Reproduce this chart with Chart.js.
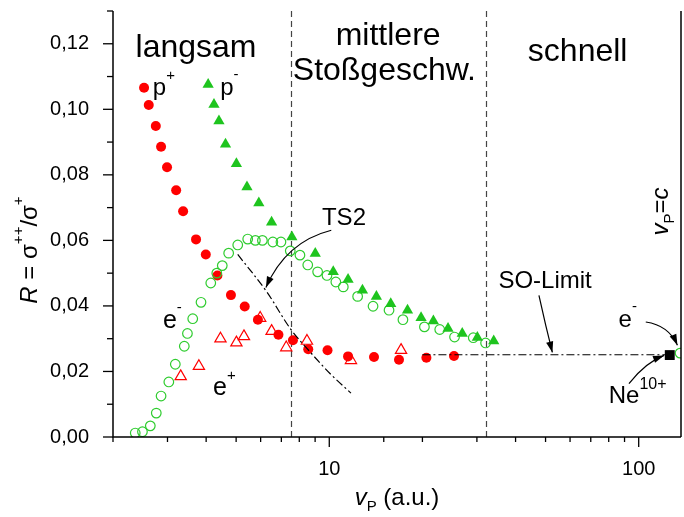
<!DOCTYPE html>
<html>
<head>
<meta charset="utf-8">
<script src="https://cdn.jsdelivr.net/npm/chart.js@4/dist/chart.umd.min.js"></script>
<style>
	html, body { margin: 0; padding: 0; background: #fff; }
</style>
</head>
<body>
<canvas id="ratio-chart" width="684" height="517"></canvas>
<script>
// values: v_P in a.u., R = sigma++/sigma+
const protonV = [2.52, 2.61, 2.75, 2.86, 2.99, 3.20, 3.37, 3.71, 3.99, 4.35, 4.81, 5.33, 5.88, 6.85, 7.63, 8.55, 9.87, 11.5, 13.95, 16.8, 20.6, 25.3];
const protonR = [0.1066, 0.1013, 0.0949, 0.0886, 0.0823, 0.0753, 0.0689, 0.0603, 0.0557, 0.0493, 0.0433, 0.0398, 0.0358, 0.0312, 0.0295, 0.0268, 0.0265, 0.0246, 0.0244, 0.0236, 0.0242, 0.0247];

const antiprotonV = [4.06, 4.24, 4.40, 4.62, 5.01, 5.42, 5.92, 6.51, 7.57, 9.01, 10.3, 11.5, 12.8, 14.2, 15.8, 17.9, 19.8, 21.7, 24.2, 26.9, 30.1, 34.0];
const antiprotonR = [0.1076, 0.1015, 0.0964, 0.0893, 0.0834, 0.0763, 0.0714, 0.0655, 0.0610, 0.0560, 0.0504, 0.0481, 0.0448, 0.0429, 0.0407, 0.0387, 0.0364, 0.0354, 0.0331, 0.0316, 0.0304, 0.0293];

const electronV = [2.36, 2.49, 2.64, 2.76, 2.86, 3.03, 3.18, 3.40, 3.48, 3.62, 3.85, 4.14, 4.33, 4.51, 4.73, 5.06, 5.45, 5.77, 6.08, 6.57, 6.98, 7.48, 8.04, 8.52, 9.17, 9.83, 10.5, 11.1, 12.35, 13.85, 15.6, 17.3, 20.3, 22.75, 25.4, 29.2, 32.0, 136];
const electronR = [0.0012, 0.0016, 0.0034, 0.0073, 0.0125, 0.0168, 0.0222, 0.0277, 0.0316, 0.0361, 0.0411, 0.0470, 0.0500, 0.0523, 0.0561, 0.0586, 0.0604, 0.0600, 0.0600, 0.0595, 0.0595, 0.0568, 0.0555, 0.0525, 0.0504, 0.0493, 0.0473, 0.0458, 0.0429, 0.0399, 0.0387, 0.0358, 0.0336, 0.0328, 0.0305, 0.0303, 0.0287, 0.0256];

const positronV = [3.31, 3.79, 4.45, 5.01, 5.30, 5.98, 6.51, 7.26, 8.47, 11.75, 17.06];
const positronR = [0.0185, 0.0216, 0.0300, 0.0288, 0.0307, 0.0363, 0.0323, 0.0273, 0.0293, 0.0234, 0.0265];

const neonV = [126];
const neonR = [0.0250];

// TS2 curve and shake-off limit
const ts2V = [5.06, 6.29, 7.48, 8.68, 10.07, 11.75];
const ts2R = [0.0557, 0.0442, 0.0331, 0.0259, 0.0193, 0.0134];
const soLimitV = [20.0, 126];
const soLimitR = [0.0251, 0.0251];

// region borders and speed of light (a.u.)
const regionBorders = [7.5, 32];
const lightSpeed = 137;

const xTickLabels = [10, 100];

const FONT = "'Liberation Sans', Arial, sans-serif";

function toPoints(xs, ys) {
	return xs.map((x, i) => ({ x: x, y: ys[i] }));
}

function font(size, italic) {
	return (italic ? "italic " : "") + size + "px " + FONT;
}

// draws runs of text with super-/subscripts, left to right on one baseline
function drawRuns(ctx, x, y, runs, align) {
	let width = 0;
	runs.forEach((r) => {
		ctx.font = font(r.size, r.italic);
		width += ctx.measureText(r.text).width;
	});
	let cx = align === "center" ? x - width / 2 : x;
	runs.forEach((r) => {
		ctx.font = font(r.size, r.italic);
		ctx.fillText(r.text, cx, y + (r.dy || 0));
		cx += ctx.measureText(r.text).width;
	});
}

function arrow(ctx, p0, c, p2) {
	ctx.beginPath();
	ctx.moveTo(p0[0], p0[1]);
	ctx.quadraticCurveTo(c[0], c[1], p2[0], p2[1]);
	ctx.stroke();
	const ang = Math.atan2(p2[1] - c[1], p2[0] - c[0]);
	const len = 11;
	const half = 3.6;
	ctx.beginPath();
	ctx.moveTo(p2[0], p2[1]);
	ctx.lineTo(p2[0] - len * Math.cos(ang) + half * Math.sin(ang), p2[1] - len * Math.sin(ang) - half * Math.cos(ang));
	ctx.lineTo(p2[0] - len * Math.cos(ang) - half * Math.sin(ang), p2[1] - len * Math.sin(ang) + half * Math.cos(ang));
	ctx.closePath();
	ctx.fill();
}

const decorations = {
	id: "decorations",
	beforeDatasetsDraw(chart) {
		const { ctx, chartArea } = chart;
		const xs = chart.scales.x;
		ctx.save();
		ctx.strokeStyle = "#444";
		ctx.lineWidth = 1.2;
		ctx.setLineDash([6, 4]);
		regionBorders.forEach((v) => {
			const x = Math.round(xs.getPixelForValue(v)) + 0.5;
			ctx.beginPath();
			ctx.moveTo(x, chartArea.top);
			ctx.lineTo(x, chartArea.bottom);
			ctx.stroke();
		});
		ctx.restore();
	},
	afterDatasetsDraw(chart) {
		const { ctx, chartArea } = chart;
		const xs = chart.scales.x;
		const ys = chart.scales.y;
		const at = (v, r) => [xs.getPixelForValue(v), ys.getPixelForValue(r)];

		ctx.save();
		ctx.fillStyle = "#000";
		ctx.strokeStyle = "#000";
		ctx.lineWidth = 1.5;

		// axes
		ctx.beginPath();
		ctx.moveTo(chartArea.left, chartArea.top);
		ctx.lineTo(chartArea.left, chartArea.bottom);
		ctx.lineTo(chartArea.right, chartArea.bottom);
		ctx.stroke();

		// v_P = c line
		const cx = xs.getPixelForValue(lightSpeed);
		ctx.beginPath();
		ctx.moveTo(cx, chartArea.top);
		ctx.lineTo(cx, chartArea.bottom);
		ctx.stroke();

		// y ticks, every 0.01
		ctx.lineWidth = 1.3;
		for (let i = 0; i <= 13; i++) {
			const y = ys.getPixelForValue(i / 100);
			const len = i % 2 === 0 ? 10 : 6;
			ctx.beginPath();
			ctx.moveTo(chartArea.left, y);
			ctx.lineTo(chartArea.left - len, y);
			ctx.stroke();
		}
		// x ticks
		xs.ticks.forEach((t) => {
			if (t.value > lightSpeed - 1) return;
			const x = xs.getPixelForValue(t.value);
			const major = xTickLabels.includes(t.value);
			ctx.beginPath();
			ctx.moveTo(x, chartArea.bottom);
			ctx.lineTo(x, chartArea.bottom + (major ? 10 : 5));
			ctx.stroke();
		});

		// arrows
		ctx.lineWidth = 1.2;
		arrow(ctx, at(10.15, 0.0631), at(7.24, 0.0596), at(6.24, 0.0456));
		arrow(ctx, at(47.6, 0.0432), at(50, 0.034), at(52.6, 0.0258));
		arrow(ctx, at(105.4, 0.0351), at(125, 0.0341), at(133.4, 0.0280));
		arrow(ctx, at(93.0, 0.0163), at(105.4, 0.0228), at(120.8, 0.0249));

		// region names
		ctx.textAlign = "left";
		ctx.textBaseline = "alphabetic";
		let p = at(3.71, 0.1159);
		drawRuns(ctx, p[0], p[1], [{ text: "langsam", size: 32 }], "center");
		p = at(15.5, 0.1195);
		drawRuns(ctx, p[0], p[1], [{ text: "mittlere", size: 32 }], "center");
		p = at(15.07, 0.1088);
		drawRuns(ctx, p[0], p[1], [{ text: "Stoßgeschw.", size: 32 }], "center");
		p = at(63.5, 0.1146);
		drawRuns(ctx, p[0], p[1], [{ text: "schnell", size: 32 }], "center");

		// series labels
		p = at(2.69, 0.1043);
		drawRuns(ctx, p[0], p[1], [{ text: "p", size: 24 }, { text: "+", size: 15, dy: -15 }]);
		p = at(4.44, 0.1043);
		drawRuns(ctx, p[0], p[1], [{ text: "p", size: 24 }, { text: "-", size: 15, dy: -16 }]);
		p = at(9.47, 0.0646);
		drawRuns(ctx, p[0], p[1], [{ text: "TS2", size: 24 }]);
		p = at(2.90, 0.0332);
		drawRuns(ctx, p[0], p[1], [{ text: "e", size: 25 }, { text: "-", size: 15, dy: -16 }]);
		p = at(4.21, 0.0127);
		drawRuns(ctx, p[0], p[1], [{ text: "e", size: 25 }, { text: "+", size: 15, dy: -15 }]);
		p = at(35.2, 0.0454);
		drawRuns(ctx, p[0], p[1], [{ text: "SO-Limit", size: 24 }]);
		p = at(86.1, 0.0335);
		drawRuns(ctx, p[0], p[1], [{ text: "e", size: 24 }, { text: "-", size: 15, dy: -16 }]);
		p = at(80, 0.0103);
		drawRuns(ctx, p[0], p[1], [{ text: "Ne", size: 24 }, { text: "10+", size: 16, dy: -14 }]);

		// v_P = c, rotated
		p = at(124.2, 0.0615);
		ctx.save();
		ctx.translate(p[0], p[1]);
		ctx.rotate(-Math.PI / 2);
		drawRuns(ctx, 0, 0, [
			{ text: "v", size: 24, italic: true },
			{ text: "P", size: 15, dy: 6 },
			{ text: "=", size: 24 },
			{ text: "c", size: 24, italic: true },
		]);
		ctx.restore();

		// axis titles
		ctx.save();
		ctx.translate(37, 250);
		ctx.rotate(-Math.PI / 2);
		drawRuns(ctx, 0, 0, [
			{ text: "R", size: 24, italic: true },
			{ text: " = σ", size: 24 },
			{ text: "++", size: 15, dy: -14 },
			{ text: "/σ", size: 24 },
			{ text: "+", size: 15, dy: -14 },
		], "center");
		ctx.restore();

		drawRuns(ctx, (chartArea.left + chartArea.right) / 2, 505, [
			{ text: "v", size: 24, italic: true },
			{ text: "P", size: 15, dy: 6 },
			{ text: " (a.u.)", size: 24 },
		], "center");

		ctx.restore();
	},
};

function noPadding(scale) {
	scale.paddingLeft = 0;
	scale.paddingRight = 0;
	scale.paddingTop = 0;
	scale.paddingBottom = 0;
}

Chart.defaults.font.family = FONT;
Chart.defaults.color = "#000";

new Chart(document.getElementById("ratio-chart").getContext("2d"), {
	type: "scatter",
	data: {
		datasets: [
			{
				label: "SO-Limit",
				data: toPoints(soLimitV, soLimitR),
				showLine: true,
				borderColor: "#000",
				borderWidth: 1.2,
				borderDash: [8, 3, 2, 3],
				pointRadius: 0,
				order: 0,
			},
			{
				label: "TS2",
				data: toPoints(ts2V, ts2R),
				showLine: true,
				borderColor: "#000",
				borderWidth: 1.2,
				borderDash: [8, 3, 2, 3],
				cubicInterpolationMode: "monotone",
				pointRadius: 0,
				order: 0,
			},
			{
				label: "Ne10+",
				data: toPoints(neonV, neonR),
				pointStyle: "rect",
				pointRadius: 7,
				backgroundColor: "#000",
				borderColor: "#000",
				borderWidth: 0,
				order: 1,
			},
			{
				label: "p-",
				data: toPoints(antiprotonV, antiprotonR),
				pointStyle: "triangle",
				pointRadius: 6.5,
				backgroundColor: "#1ec41e",
				borderColor: "#1ec41e",
				borderWidth: 0,
				order: 2,
			},
			{
				label: "e-",
				data: toPoints(electronV, electronR),
				pointStyle: "circle",
				pointRadius: 4.8,
				backgroundColor: "rgba(0,0,0,0)",
				borderColor: "#2fcc2f",
				borderWidth: 1.2,
				order: 3,
			},
			{
				label: "e+",
				data: toPoints(positronV, positronR),
				pointStyle: "triangle",
				pointRadius: 6.5,
				backgroundColor: "rgba(0,0,0,0)",
				borderColor: "#ff0000",
				borderWidth: 1.2,
				order: 4,
			},
			{
				label: "p+",
				data: toPoints(protonV, protonR),
				pointStyle: "circle",
				pointRadius: 5,
				backgroundColor: "#ff0000",
				borderColor: "#ff0000",
				borderWidth: 0,
				order: 5,
			},
		],
	},
	options: {
		responsive: false,
		animation: false,
		devicePixelRatio: 1,
		layout: {
			autoPadding: false,
			padding: { left: 0, top: 11, right: 3, bottom: 0 },
		},
		plugins: {
			legend: { display: false },
			tooltip: { enabled: false },
		},
		scales: {
			x: {
				type: "logarithmic",
				min: 2,
				max: lightSpeed,
				afterFit: (scale) => {
					scale.height = 80;
					noPadding(scale);
				},
				grid: { display: false },
				border: { display: false },
				ticks: {
					autoSkip: false,
					maxRotation: 0,
					padding: 12,
					font: { size: 20 },
					callback: (value) => (xTickLabels.includes(value) ? String(value) : ""),
				},
			},
			y: {
				min: 0,
				max: 0.13,
				afterFit: (scale) => {
					scale.width = 113;
					noPadding(scale);
				},
				grid: { display: false },
				border: { display: false },
				ticks: {
					stepSize: 0.02,
					includeBounds: false,
					padding: 16,
					font: { size: 20 },
					callback: (value) => value.toFixed(2).replace(".", ","),
				},
			},
		},
	},
	plugins: [decorations],
});
</script>
</body>
</html>
